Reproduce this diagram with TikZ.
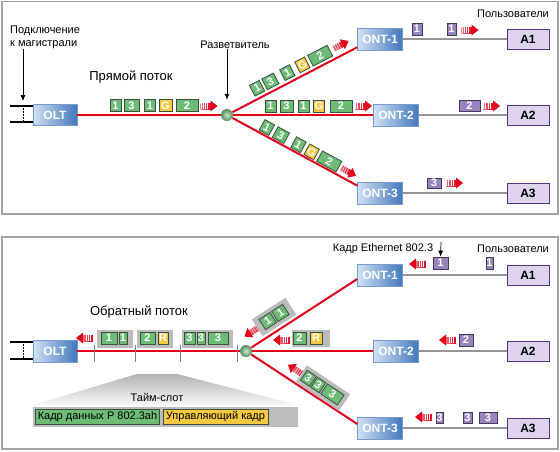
\documentclass[tikz,border=0pt]{standalone}
\usepackage{fontspec}
\setmainfont{Liberation Sans}
\usetikzlibrary{arrows.meta}
\definecolor{fibre}{RGB}{226,0,26}
\definecolor{copper}{RGB}{150,150,150}
\definecolor{ontlight}{RGB}{208,224,244}
\definecolor{ontdark}{RGB}{66,120,188}
\definecolor{ontedge}{RGB}{120,155,205}
\definecolor{pkgreen}{RGB}{108,188,118}
\definecolor{pkgedge}{RGB}{60,80,64}
\definecolor{pkyellow}{RGB}{246,200,64}
\definecolor{pkpurple}{RGB}{152,132,188}
\definecolor{pkpedge}{RGB}{72,56,96}
\definecolor{userfill}{RGB}{222,210,236}
\definecolor{useredge}{RGB}{84,52,124}
\definecolor{slotgray}{RGB}{188,188,188}
\definecolor{framegray}{RGB}{165,165,165}

\begin{document}
\begin{tikzpicture}[x=1pt,y=-1pt]
\tikzset{term/.style={draw=ontedge, left color=ontlight, right color=ontdark, text=white, font=\bfseries\fontsize{12}{12}\selectfont, minimum width=45pt, minimum height=22pt, inner sep=0pt},
  user/.style={draw=useredge, line width=1pt, fill=userfill, font=\bfseries\fontsize{12}{12}\selectfont, minimum width=42pt, minimum height=20pt, inner sep=0pt},
  splitter/.style={circle, shading=radial, inner color=pkgreen!35!white, outer color=pkgreen!75!black, minimum size=12pt, inner sep=0pt},
  fibreline/.style={fibre, line width=2pt},
  copperline/.style={copper, line width=2pt},
  pkt/.style={draw=pkgedge, fill=pkgreen, text=white, font=\bfseries\fontsize{11}{11}\selectfont, minimum width=11pt, minimum height=12pt, inner sep=0pt, line width=0.8pt},
  ctl/.style={pkt, fill=pkyellow},
  eth/.style={pkt, draw=pkpedge, fill=pkpurple},
  slot/.style={fill=slotgray, minimum height=18pt, inner sep=0pt},
  caption/.style={font=\fontsize{11}{13}\selectfont, inner sep=0pt},
  heading/.style={font=\fontsize{13}{15}\selectfont, inner sep=0pt},
  pointer/.style={line width=0.7pt, -{Latex[length=6pt,width=5pt]}},
  tick/.style={gray, line width=1pt},
  panel/.style={framegray, line width=1.5pt},
  flow/.pic={
    \shade[left color=fibre!55, right color=fibre] (-8.5,-3) rectangle (2,3);
    \draw[white, line width=6pt, dash pattern=on 0.45pt off 1.8pt] (-8.5,0) -- (0,0);
    \fill[fibre] (1.5,-5.5) -- (8.5,0) -- (1.5,5.5) -- cycle;
  }}
\useasboundingbox (0,0) rectangle (560,451);
\fill[white] (0,0) rectangle (560,451);
\draw[panel] (2,1.5) rectangle (558,214);
\draw[panel] (2,237) rectangle (558,449);

% downstream
\node[term, minimum width=44pt, minimum height=21pt] (OLT1) at (55,115) {OLT};
\node[splitter] (SP1) at (227,115) {};
\node[term] (ONT11) at (380,39) {ONT-1};
\node[term] (ONT12) at (396,115) {ONT-2};
\node[term] (ONT13) at (380,193) {ONT-3};
\node[user] (A11) at (528,39) {A1};
\node[user] (A12) at (528,115) {A2};
\node[user] (A13) at (528,193) {A3};
\draw[line width=2pt] (10,106) -- (33,106);
\draw[line width=2pt] (10,122) -- (33,122);
\draw[line width=1pt, dash pattern=on 1.5pt off 1.5pt] (23,108) -- (23,121);
\draw[fibreline] (OLT1) -- (SP1);
\draw[fibreline] (SP1) -- (ONT11.200);
\draw[fibreline] (SP1) -- (ONT12);
\draw[fibreline] (SP1) -- (ONT13.162);
\draw[copperline] (ONT11) -- (A11);
\draw[copperline] (ONT12) -- (A12);
\draw[copperline] (ONT13) -- (A13);
\node[caption, align=left, anchor=north west] (trunk1) at (10,26) {Подключение\\к магистрали};
\node[heading] (down) at (131,77) {Прямой поток};
\node[caption] (split1) at (235,45) {Разветвитель};
\node[caption] (users1) at (513,14) {Пользователи};
\coordinate (bb1) at (23,101);
\draw[pointer] (trunk1.south -| bb1) -- (bb1);
\draw[pointer] (split1.south -| SP1) -- ([yshift=9pt]SP1.north);
\node[pkt] (d1) at (115.5,105.5) {1};
\node[pkt, minimum width=15pt] (d2) at (131.5,105.5) {3};
\node[pkt] (d3) at (150,105.5) {1};
\node[ctl, minimum width=13pt] (d4) at (165.5,105.5) {G};
\node[pkt, minimum width=22pt] (d5) at (187,105.5) {2};
\pic at (209,106) {flow};
\begin{scope}[shift={(SP1)}, rotate=27.3, transform shape]
\node[pkt] (u1) at (39,-10) {1};
\node[pkt, minimum width=13pt] (u2) at (54,-10) {3};
\node[pkt] (u3) at (73,-10) {1};
\node[ctl] (u4) at (90,-10) {G};
\node[pkt, minimum width=22pt] (u5) at (110,-10) {2};
\pic at (133.5,-10) {flow};
\end{scope}
\node[pkt] (m1) at (270.5,106) {1};
\node[pkt, minimum width=13pt] (m2) at (286.5,106) {3};
\node[pkt] (m3) at (303.5,106) {1};
\node[ctl] (m4) at (319,106) {G};
\node[pkt, minimum width=22pt] (m5) at (341,106) {2};
\pic at (363.5,106) {flow};
\begin{scope}[shift={(SP1)}, rotate=-28.5, transform shape]
\node[pkt] (l1) at (41,-8) {1};
\node[pkt, minimum width=13pt] (l2) at (57,-8) {3};
\node[pkt] (l3) at (77,-8) {1};
\node[ctl] (l4) at (92,-8) {G};
\node[pkt, minimum width=22pt] (l5) at (112,-8) {2};
\pic at (134,-8) {flow};
\end{scope}
\node[eth, minimum width=10pt] (p1) at (417,29) {1};
\node[eth, minimum width=9pt] (p2) at (451.5,29) {1};
\pic at (470,30) {flow};
\node[eth, minimum width=21pt, minimum height=11pt] (p2) at (469.5,105.5) {2};
\pic at (491.5,106) {flow};
\node[eth, minimum width=14pt, minimum height=10pt] (p3) at (434,183) {3};
\pic at (454.5,183) {flow};

% upstream
\node[term, minimum width=44pt] (OLT2) at (55,351) {OLT};
\node[splitter] (SP2) at (246,351) {};
\node[term] (ONT21) at (380,275) {ONT-1};
\node[term] (ONT22) at (396,351) {ONT-2};
\node[term] (ONT23) at (380,428) {ONT-3};
\node[user] (A21) at (528,275) {A1};
\node[user] (A22) at (528,351) {A2};
\node[user] (A23) at (528,428) {A3};
\draw[line width=2pt] (10,342) -- (33,342);
\draw[line width=2pt] (10,359) -- (33,359);
\draw[line width=1pt, dash pattern=on 1.5pt off 1.5pt] (23,344) -- (23,358);
\draw[fibreline] (OLT2) -- (SP2);
\draw[fibreline] (SP2) -- (ONT21.190);
\draw[fibreline] (SP2) -- (ONT22);
\draw[fibreline] (SP2) -- (ONT23.170);
\draw[copperline] (ONT21) -- (A21);
\draw[copperline] (ONT22) -- (A22);
\draw[copperline] (ONT23) -- (A23);
\draw[tick] (94,345) -- (94,362);
\draw[tick] (135,345) -- (135,362);
\draw[tick] (180,345) -- (180,362);
\draw[tick] (237,345) -- (237,362);
\node[heading] (up) at (139,312) {Обратный поток};
\node[caption] (ether) at (383,249) {Кадр Ethernet 802.3};
\node[caption] (users2) at (513,249) {Пользователи};
\node[slot, minimum width=36pt] (s1) at (115,339) {};
\node[pkt, minimum width=16pt] (r1) at (109,338) {1};
\node[pkt, minimum width=8pt] (r2) at (123,338) {1};
\node[slot, minimum width=36pt] (s2) at (155,339) {};
\node[pkt, minimum width=15pt] (r3) at (147.5,338) {2};
\node[ctl, minimum width=10pt] (r4) at (163,338) {R};
\node[slot, minimum width=51pt] (s3) at (207.5,339) {};
\node[pkt] (r5) at (189.5,338) {3};
\node[pkt, minimum width=8pt] (r6) at (201,338) {3};
\node[pkt, minimum width=20pt] (r7) at (218,338) {3};
\pic[rotate=180] at (84.5,338) {flow};
\shade[top color=gray!60, bottom color=gray!5] (137,374) -- (177,374) -- (298,405) -- (33,405) -- cycle;
\node[caption] (slotname) at (157,397) {Тайм-слот};
\fill[slotgray] (33,407) rectangle (298,427);
\node[pkt, text=black, font=\fontsize{11}{13}\selectfont, minimum width=124pt, minimum height=15pt] (kd) at (97.5,416.5) {Кадр данных P 802.3ah};
\node[ctl, text=black, font=\fontsize{11}{13}\selectfont, minimum width=105pt, minimum height=15pt] (kc) at (215.5,416.5) {Управляющий кадр};
\begin{scope}[shift={(SP2)}, rotate=32.7, transform shape]
\pic[rotate=180] at (15,-13) {flow};
\node[slot, minimum width=40pt, minimum height=20pt] (s4) at (42,-13.5) {};
\node[pkt, minimum width=13pt] (t1) at (34.5,-13.5) {1};
\node[pkt, minimum width=13pt] (t2) at (49.5,-13.5) {1};
\end{scope}
\pic[rotate=180] at (281.5,340) {flow};
\node[slot, minimum width=38pt, minimum height=17pt] (s5) at (311,338.5) {};
\node[pkt, minimum width=13pt] (t3) at (299.5,338) {2};
\node[ctl, minimum width=12pt] (t4) at (316,338) {R};
\begin{scope}[shift={(SP2)}, rotate=-33.8, transform shape]
\pic[rotate=180] at (51,-12) {flow};
\node[slot, minimum width=52pt, minimum height=20pt] (s6) at (84.5,-12) {};
\node[pkt] (t5) at (67,-12) {3};
\node[pkt, minimum width=10pt] (t6) at (79,-12) {3};
\node[pkt, minimum width=20pt] (t7) at (96,-12) {3};
\end{scope}
\pic[rotate=180] at (417.5,264) {flow};
\node[eth, minimum width=15pt] (q1) at (440.5,263) {1};
\node[eth, minimum width=7pt] (q2) at (489.5,263) {1};
\pic[rotate=180] at (447.5,340) {flow};
\node[eth, minimum width=14pt] (q3) at (466,340) {2};
\pic[rotate=180] at (423.5,417) {flow};
\node[eth, minimum width=7pt, minimum height=11pt] (q4) at (439.5,417.5) {3};
\node[eth, minimum width=9pt, minimum height=11pt] (q5) at (467.5,417.5) {3};
\node[eth, minimum width=18pt, minimum height=11pt] (q6) at (488,417.5) {3};
\coordinate (ethtip) at (441,242);
\draw[pointer] (ethtip) -- (q1.north);
\end{tikzpicture}
\end{document}
